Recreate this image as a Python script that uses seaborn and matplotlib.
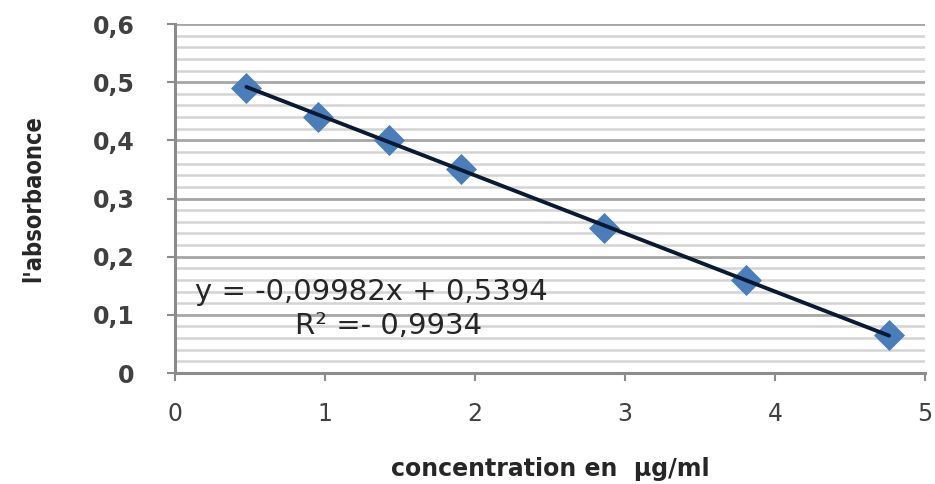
import numpy as np
import pandas as pd
import seaborn as sns
import matplotlib.pyplot as plt
from matplotlib.ticker import MultipleLocator, FuncFormatter

# Calibration points
concentration = [0.476, 0.952, 1.428, 1.904, 2.857, 3.809, 4.76]
absorbance = [0.49, 0.44, 0.40, 0.35, 0.25, 0.16, 0.065]

# Linear trend line
slope = -0.09982
intercept = 0.5394
r2_label = "R² =- 0,9934"

x_ticks = [0, 1, 2, 3, 4, 5]
y_ticks = [0, 0.1, 0.2, 0.3, 0.4, 0.5, 0.6]

sns.set_theme(style="white")
plt.rcParams['font.family'] = ['DejaVu Sans']

df = pd.DataFrame({"x": concentration, "y": absorbance})

fig = plt.figure(figsize=(9.35, 4.84), dpi=100)
ax = fig.add_axes([0.1872, 0.2293, 0.8021, 0.7211])

# horizontal grid: major every 0.1, minor every 0.02
ax.yaxis.set_major_locator(MultipleLocator(0.1))
ax.yaxis.set_minor_locator(MultipleLocator(0.02))
ax.grid(which="major", axis="y", color="#a6a6a6", linewidth=2.0)
ax.grid(which="minor", axis="y", color="#d4d4d4", linewidth=1.8)
ax.grid(which="both", axis="x", visible=False)
ax.set_axisbelow(True)

sns.scatterplot(data=df, x="x", y="y", ax=ax, marker="D", s=250,
                color="#4a7ebb", edgecolor="#4a7ebb", linewidth=0, zorder=3)

xs = np.array([min(concentration), max(concentration)])
trend = pd.DataFrame({"x": xs, "y": slope * xs + intercept})
sns.lineplot(data=trend, x="x", y="y", ax=ax, color="#0b1a33",
             linewidth=2.8, zorder=4)

ax.set_xlim(0, 5)
ax.set_ylim(0, 0.6)
ax.set_xticks(x_ticks)
ax.set_yticks(y_ticks)

ax.xaxis.set_major_formatter(FuncFormatter(lambda v, p: f"{v:g}"))
ax.yaxis.set_major_formatter(
    FuncFormatter(lambda v, p: "0" if abs(v) < 1e-9 else f"{v:.1f}".replace(".", ",")))

for s in ["top", "right"]:
    ax.spines[s].set_visible(False)
for s in ["left", "bottom"]:
    ax.spines[s].set_color("#8c8c8c")
    ax.spines[s].set_linewidth(2.2)

ax.tick_params(axis="y", which="major", direction="out", length=6, width=1.5,
               color="#8c8c8c", left=True, pad=23, labelsize=17,
               labelcolor="#404040")
ax.tick_params(axis="y", which="minor", left=False)
ax.tick_params(axis="x", which="major", direction="out", length=6, width=1.5,
               color="#8c8c8c", bottom=True, pad=15, labelsize=17,
               labelcolor="#404040")
for lbl in ax.get_yticklabels():
    lbl.set_fontweight("bold")

ax.set_xlabel("concentration en  µg/ml", fontsize=17, fontweight="bold",
              color="#262626", labelpad=22)
ax.set_ylabel("l'absorbaonce", fontsize=17, fontweight="bold",
              fontstretch="condensed", color="#262626", labelpad=34)

ax.text(0.13, 0.14, f"y = {slope:.5f}x + {intercept:.4f}".replace(".", ","),
        fontsize=21, color="#262626", ha="left", va="center", zorder=5)
ax.text(0.8, 0.08, r2_label, fontsize=21, color="#262626",
        ha="left", va="center", zorder=5)

fig.savefig("out.png", dpi=100)
